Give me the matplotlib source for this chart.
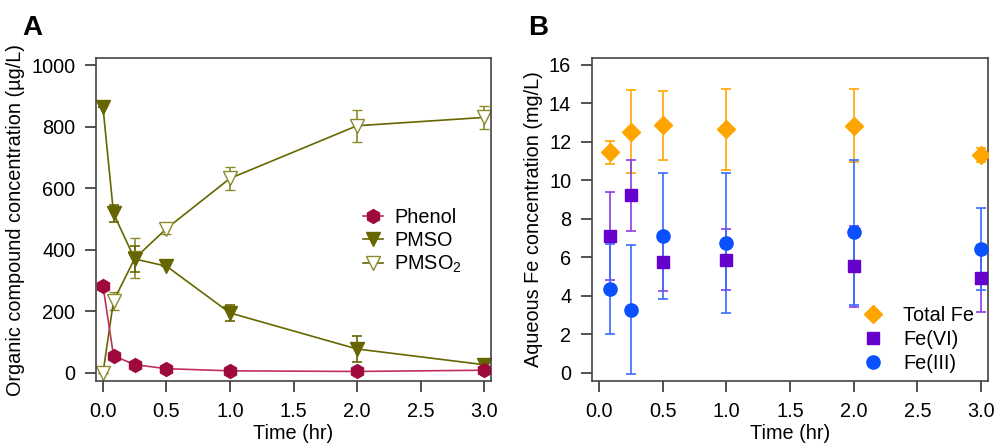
import matplotlib
matplotlib.use("Agg")
import matplotlib.pyplot as plt
from matplotlib.lines import Line2D

plt.rcParams['font.family'] = ['Liberation Sans', 'DejaVu Sans']
plt.rcParams['mathtext.fontset'] = 'custom'
plt.rcParams['mathtext.rm'] = 'Liberation Sans'
plt.rcParams['mathtext.it'] = 'Liberation Sans:italic'
plt.rcParams['mathtext.bf'] = 'Liberation Sans:bold'

# Panel A data
time_a = [0.0, 0.083, 0.25, 0.5, 1.0, 2.0, 3.0]
phenol = [283, 56, 27, 14, 7, 5, 9]
pmso = [863, 518, 370, 347, 195, 78, 27]
pmso_err = [0, 26, 42, 0, 26, 41, 14]
pmso2 = [0, 234, 372, 469, 632, 803, 830]
pmso2_err = [0, 29, 65, 17, 38, 52, 36]

# Panel B data
time_b = [0.083, 0.25, 0.5, 1.0, 2.0, 3.0]
total_fe = [11.47, 12.54, 12.87, 12.65, 12.84, 11.33]
total_fe_err = [0.6, 2.15, 1.8, 2.1, 1.9, 0.35]
fe6 = [7.11, 9.22, 5.74, 5.88, 5.54, 4.91]
fe6_err = [2.3, 1.85, 1.5, 1.58, 2.1, 1.76]
fe3 = [4.36, 3.29, 7.11, 6.76, 7.30, 6.44]
fe3_err = [2.34, 3.33, 3.25, 3.63, 3.78, 2.15]

xticks = [0.0, 0.5, 1.0, 1.5, 2.0, 2.5, 3.0]
xticklabels = ['0.0', '0.5', '1.0', '1.5', '2.0', '2.5', '3.0']

fig = plt.figure(figsize=(9.97, 4.45), dpi=100)
W, H = 997, 445
axA = fig.add_axes([96 / W, (H - 381) / H, 395 / W, 323 / H])
axB = fig.add_axes([592 / W, (H - 381) / H, 396 / W, 323 / H])

FS = 14.3
maroon = '#9E0A3E'
maroon_line = '#C0305C'
olive = '#666600'
olive_light = '#8A8A2A'
orange = '#FFA500'
purple = '#6600CC'
purple_light = '#8A3CE6'
blue = '#0A50FF'
blue_light = '#3A6CFF'
CAP = 3.6
MS_TRI = 10.5
MS_HEX = 10
MS_D = 9
MS_S = 9
MS_O = 9.5

# Panel A
axA.plot(time_a, phenol, color=maroon_line, lw=1.2, marker='h', ms=MS_HEX,
         mfc=maroon, mec=maroon, zorder=3)
axA.errorbar(time_a, pmso2, yerr=pmso2_err, color=olive, lw=1.2, marker='v',
             ms=MS_TRI, mfc='white', mec=olive_light, mew=1.0, ecolor=olive_light,
             elinewidth=1.2, capsize=CAP, capthick=1.2, zorder=2)
axA.errorbar(time_a, pmso, yerr=pmso_err, color=olive, lw=1.2, marker='v',
             ms=MS_TRI, mfc=olive, mec=olive, ecolor=olive, elinewidth=1.2,
             capsize=CAP, capthick=1.2, zorder=2)
axA.set_xlim(-0.055, 3.055)
axA.set_ylim(-26, 1023)
axA.set_yticks([0, 200, 400, 600, 800, 1000])
axA.set_ylabel('Organic compound concentration (µg/L)', fontsize=FS)
hA = [Line2D([], [], color=maroon_line, lw=1.2, marker='h', ms=MS_HEX, mfc=maroon, mec=maroon),
      Line2D([], [], color=olive, lw=1.2, marker='v', ms=MS_TRI, mfc=olive, mec=olive),
      Line2D([], [], color=olive, lw=1.2, marker='v', ms=MS_TRI, mfc='white', mec=olive_light)]
axA.legend(hA, ['Phenol', 'PMSO', 'PMSO$_\\mathregular{2}$'], loc='upper left',
           bbox_to_anchor=(0.655, 0.56), frameon=False, fontsize=FS,
           handlelength=1.0, handletextpad=0.6, labelspacing=0.2,
           borderaxespad=0)

# Panel B
axB.errorbar(time_b, total_fe, yerr=total_fe_err, fmt='D', ms=MS_D, color=orange,
             mec=orange, ecolor=orange, elinewidth=1.2, capsize=CAP, capthick=1.2,
             zorder=3)
axB.errorbar(time_b, fe6, yerr=fe6_err, fmt='s', ms=MS_S, color=purple,
             mec=purple, ecolor=purple_light, elinewidth=1.2, capsize=CAP,
             capthick=1.2, zorder=3)
axB.errorbar(time_b, fe3, yerr=fe3_err, fmt='o', ms=MS_O, color=blue,
             mec=blue, ecolor=blue_light, elinewidth=1.2, capsize=CAP,
             capthick=1.2, zorder=3)
axB.set_xlim(-0.055, 3.055)
axB.set_ylim(-0.42, 16.36)
axB.set_yticks(list(range(0, 17, 2)))
axB.set_ylabel('Aqueous Fe concentration (mg/L)', fontsize=FS)
hB = [Line2D([], [], ls='none', marker='D', ms=MS_D, color=orange),
      Line2D([], [], ls='none', marker='s', ms=MS_S, color=purple),
      Line2D([], [], ls='none', marker='o', ms=MS_O, color=blue)]
axB.legend(hB, ['Total Fe', 'Fe(VI)', 'Fe(III)'], loc='lower left',
           bbox_to_anchor=(0.665, 0.0), frameon=False,
           fontsize=FS, handlelength=1.0, handletextpad=1.0,
           labelspacing=0.25, borderaxespad=0)

for ax in (axA, axB):
    ax.set_xticks(xticks)
    ax.set_xticklabels(xticklabels)
    ax.set_xlabel('Time (hr)', fontsize=FS, labelpad=2)
    ax.tick_params(direction='out', length=8, width=1.2, color='#333333',
                   labelsize=FS, pad=7)
    for s in ax.spines.values():
        s.set_color('#444444')
        s.set_linewidth(1.2)

fig.text(22 / W, 1 - 28 / H, 'A', fontsize=20, fontweight='bold', va='center', ha='left')
fig.text(528 / W, 1 - 28 / H, 'B', fontsize=20, fontweight='bold', va='center', ha='left')

fig.savefig('out.png', dpi=100)
